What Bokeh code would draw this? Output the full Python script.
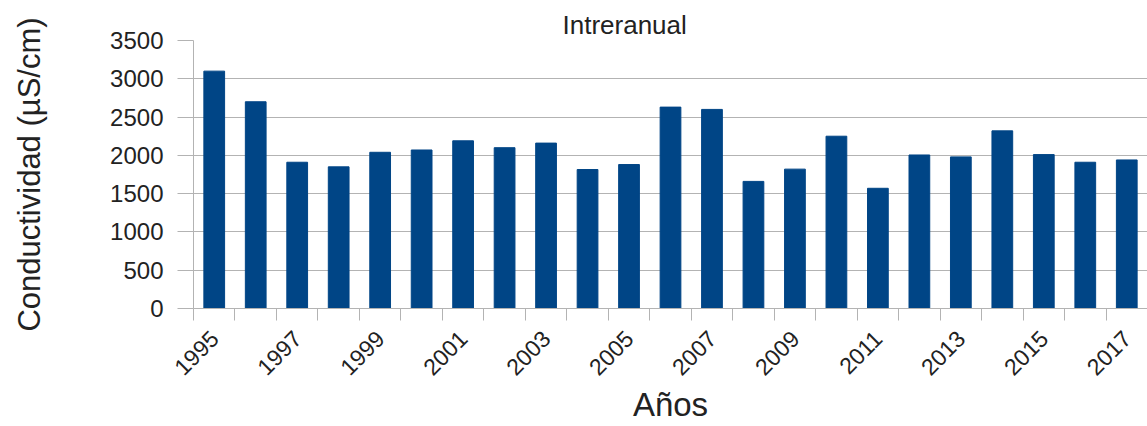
import math
from bokeh.plotting import figure
from bokeh.models import Range1d, FixedTicker, ColumnDataSource
from bokeh.embed import file_html
from bokeh.resources import INLINE

years = list(range(1995, 2018))
conductividad = [3100, 2700, 1910, 1850, 2040, 2070, 2190, 2100, 2160, 1815,
                 1880, 2630, 2600, 1660, 1820, 2250, 1570, 2005, 1980, 2320,
                 2010, 1910, 1940]
y_ticks = [0, 500, 1000, 1500, 2000, 2500, 3000, 3500]
label_years = [y for y in years if (y - 1995) % 2 == 0]
boundaries = [y - 0.5 for y in years] + [years[-1] + 0.5]

src = ColumnDataSource(dict(x=years, top=conductividad))

FONT = "Liberation Sans"
GRID = "#b3b3b3"
TXT = "#222222"

p = figure(width=1147, height=426, output_backend="svg", toolbar_location=None,
           x_range=Range1d(years[0] - 0.5, years[-1] + 0.5),
           y_range=Range1d(0, 3500),
           min_border_left=193, min_border_right=0,
           min_border_top=40, min_border_bottom=118)

p.vbar(x="x", top="top", width=0.5, source=src, color="#004586")

p.title.text = "Intreranual"
p.title.text_font = FONT
p.title.text_font_size = "26px"
p.title.text_font_style = "normal"
p.title.text_color = TXT
p.title.align = "left"
p.title.offset = 369
p.title.standoff = 2

p.outline_line_color = None
p.xgrid.grid_line_color = None
p.ygrid.grid_line_color = GRID
p.ygrid.grid_line_width = 1

xa = p.xaxis[0]
xa.ticker = FixedTicker(ticks=label_years, minor_ticks=boundaries)
xa.major_tick_out = 0
xa.major_tick_in = 0
xa.minor_tick_out = 12
xa.minor_tick_in = 0
xa.minor_tick_line_color = GRID
xa.axis_line_color = GRID
xa.major_label_orientation = math.pi / 4
xa.major_label_text_font = FONT
xa.major_label_text_font_size = "23px"
xa.major_label_text_color = TXT
xa.major_label_standoff = 14
xa.axis_label = "Años"
xa.axis_label_text_font = FONT
xa.axis_label_text_font_size = "33px"
xa.axis_label_text_font_style = "normal"
xa.axis_label_text_color = TXT
xa.axis_label_standoff = 0

ya = p.yaxis[0]
ya.ticker = FixedTicker(ticks=y_ticks)
ya.major_tick_out = 16
ya.major_tick_in = 0
ya.minor_tick_out = 0
ya.minor_tick_in = 0
ya.major_tick_line_color = GRID
ya.axis_line_color = GRID
ya.major_label_text_font = FONT
ya.major_label_text_font_size = "24px"
ya.major_label_text_color = TXT
ya.major_label_standoff = 14
ya.axis_label = "Conductividad (µS/cm)"
ya.axis_label_text_font = FONT
ya.axis_label_text_font_size = "31px"
ya.axis_label_text_font_style = "normal"
ya.axis_label_text_color = TXT
ya.axis_label_standoff = 60

open("out.html", "w").write(file_html(p, INLINE))
